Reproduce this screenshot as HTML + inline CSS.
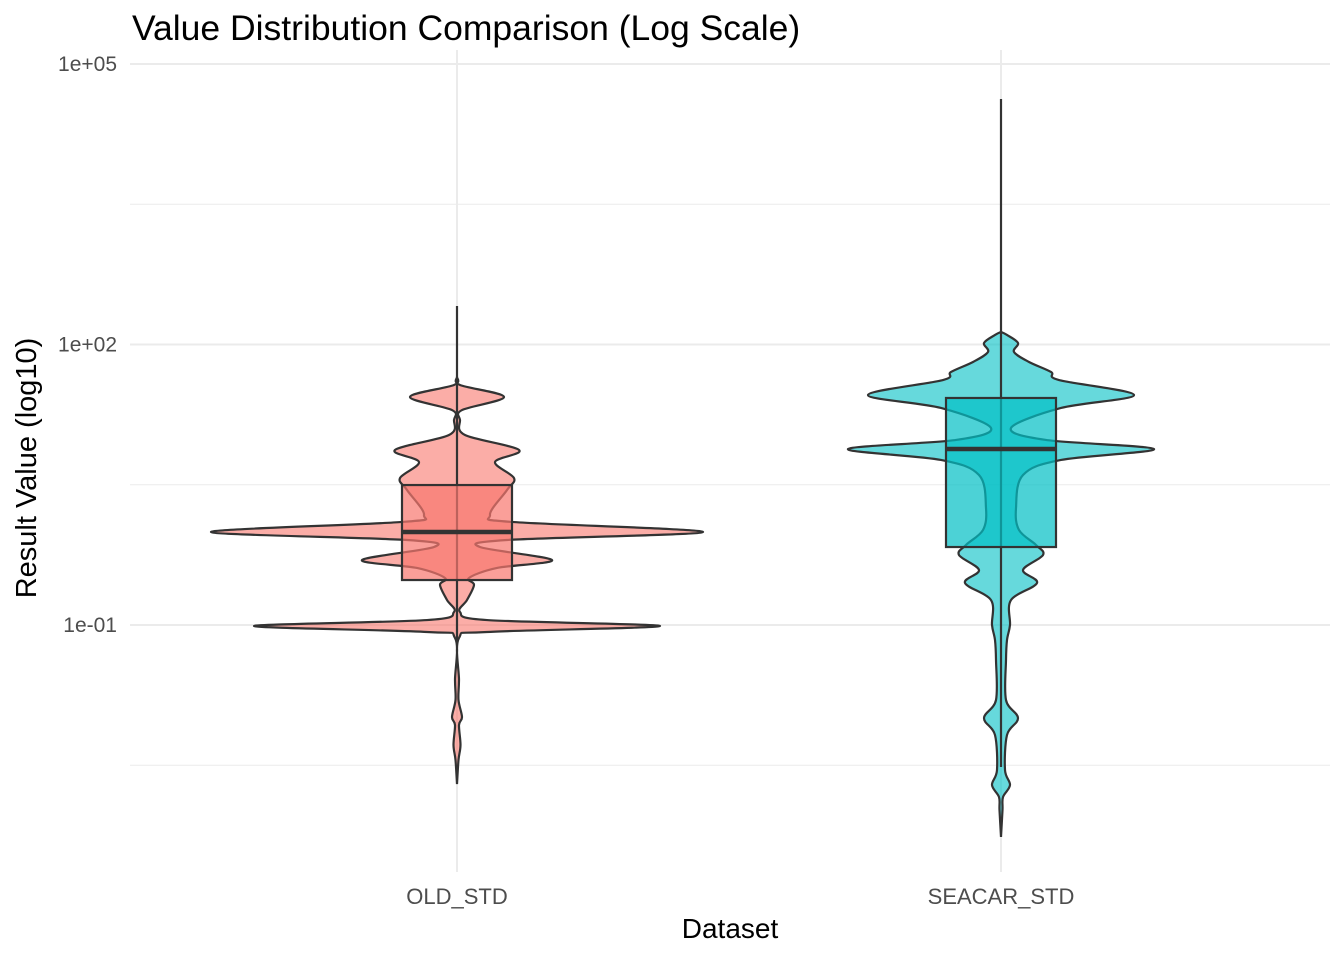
<!DOCTYPE html>
<html><head><meta charset="utf-8"><style>
body{margin:0;background:#fff}
svg{display:block;font-family:"Liberation Sans",sans-serif}
</style></head><body>
<svg id="c" width="1344" height="960">
<text x="132" y="40" font-size="35.5" fill="#000">Value Distribution Comparison (Log Scale)</text>
<text x="730" y="938" font-size="28" text-anchor="middle" fill="#000">Dataset</text>
<text transform="translate(36,468) rotate(-90)" font-size="29" text-anchor="middle" fill="#000">Result Value (log10)</text>
<g id="grid"></g><g id="marks"></g><g id="ticks"></g>
</svg>
<script>
const categories=["OLD_STD","SEACAR_STD"];
const colors=["#F8766D","#00BFC4"];
const yTicks=[5,2,-1];
const yTickLabels=["1e+05","1e+02","1e-01"];
const yMinor=[3.5,0.5,-2.5];
// violin profiles: log10 values and half-widths (px)
const oldLog=[1.652,1.567,1.439,1.299,1.193,1.032,0.872,0.743,0.572,0.444,0.176,0.102,-0.005,-0.091,-0.166,-0.305,-0.390,-0.497,-0.572,-0.733,-0.861,-0.947,-1.011,-1.075,-1.139,-1.588,-1.802,-1.984,-2.070,-2.283,-2.444,-2.701];
const oldW=[0,3,47,5,3,8,62,38,57,50,33,55,246,50,23,95,40,12,17,10,3,30,203,30,2,2,1.5,5,2,3.5,1.5,0];
const seaLog=[2.134,2.102,2.016,1.920,1.813,1.706,1.620,1.460,1.321,1.107,0.979,0.882,0.765,0.604,0.251,0.016,-0.144,-0.251,-0.412,-0.551,-0.733,-1,-1.160,-1.374,-1.802,-1.995,-2.176,-2.551,-2.711,-2.840,-2.979,-3.267];
const seaW=[0,6,17,13,28,50,58,133,60,10,45,153,60,22,15,18,35,42,22,36,10,9,6,5,5,17,6,4,9,2,1.5,0];
// box stats (log10): q1, median, q3, whisker low, whisker high
const oldBox=[-0.519,-0.005,0.497,-1.16,2.412];
const seaBox=[-0.166,0.882,1.428,-2.519,4.626];
const NS="http://www.w3.org/2000/svg";
const y=v=>625-(v+1)*93.5;
const xC=i=>457+i*544;
const mk=(p,t,a)=>{const e=document.createElementNS(NS,t);for(const k in a)e.setAttribute(k,a[k]);p.appendChild(e);return e;};
const grid=document.getElementById('grid'),marks=document.getElementById('marks'),ticks=document.getElementById('ticks');
yMinor.forEach(v=>{const l=mk(grid,'line',{x1:130,x2:1330,y1:y(v),y2:y(v),stroke:'#ebebeb','stroke-width':1});

});
yTicks.forEach((v,i)=>{const l=mk(grid,'line',{x1:130,x2:1330,y1:y(v),y2:y(v),stroke:'#ebebeb','stroke-width':2});


const t=mk(ticks,'text',{x:117,y:y(v)+7,'font-size':21,'text-anchor':'end',fill:'#4d4d4d'});t.textContent=yTickLabels[i];

});
categories.forEach((c,i)=>{const l=mk(grid,'line',{x1:xC(i),x2:xC(i),y1:50,y2:872,stroke:'#ebebeb','stroke-width':2});


const t=mk(ticks,'text',{x:xC(i),y:904,'font-size':22,'text-anchor':'middle',fill:'#4d4d4d'});t.textContent=c;

});
function spline(pts){let d='M'+pts[0][0]+','+pts[0][1];for(let i=0;i<pts.length-1;i++){const p0=pts[Math.max(0,i-1)],p1=pts[i],p2=pts[i+1],p3=pts[Math.min(pts.length-1,i+2)];
d+=' C'+(p1[0]+(p2[0]-p0[0])/6)+','+(p1[1]+(p2[1]-p0[1])/6)+' '+(p2[0]-(p3[0]-p1[0])/6)+','+(p2[1]-(p3[1]-p1[1])/6)+' '+p2[0]+','+p2[1];}return d;}
const groups=[[oldLog,oldW,oldBox],[seaLog,seaW,seaBox]];
groups.forEach(([L,W,B],i)=>{const cx=xC(i);
const right=L.map((v,k)=>[cx+W[k],y(v)]);const left=L.map((v,k)=>[cx-W[k],y(v)]).reverse();
const d=spline(right)+' L'+spline(left).slice(1)+' Z';
const vp=mk(marks,'path',{d:d,fill:colors[i],'fill-opacity':0.6,stroke:'#333','stroke-width':2.2});


const w=mk(marks,'line',{x1:cx,x2:cx,y1:y(B[3]),y2:y(B[4]),stroke:'#333','stroke-width':2.2});


const r=mk(marks,'rect',{x:cx-55,y:y(B[2]),width:110,height:y(B[0])-y(B[2]),fill:colors[i],'fill-opacity':0.7,stroke:'#333','stroke-width':2.2});


const m=mk(marks,'line',{x1:cx-55,x2:cx+55,y1:y(B[1]),y2:y(B[1]),stroke:'#333','stroke-width':4.5});

});
</script>
</body></html>
